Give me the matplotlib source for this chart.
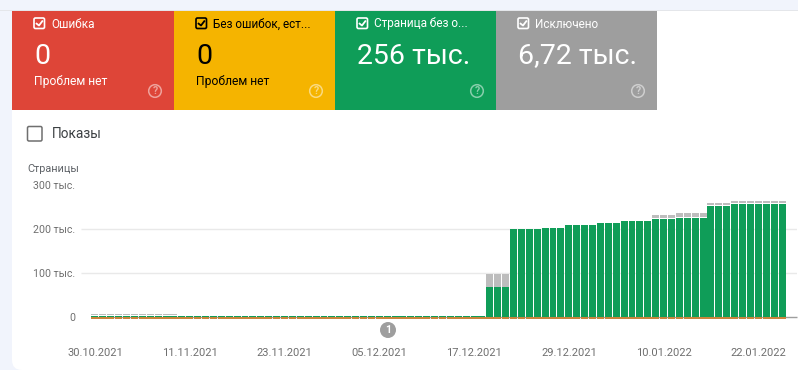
import matplotlib
matplotlib.use("Agg")
import numpy as np
import matplotlib.pyplot as plt
from matplotlib.patches import Rectangle, FancyBboxPatch, Circle

plt.rcParams['font.family'] = ['Roboto', 'DejaVu Sans']

# values in thousands of pages, one bar per day
valid = [3]*50 + [68]*3 + [201]*4 + [203]*3 + [209]*4 + [213]*3 + [217.5]*4 + [223]*3 + [226]*4 + [253]*3 + [257.5]*7
excluded = [2.5]*11 + [0]*39 + [29]*3 + [0]*14 + [0]*4 + [7.5]*3 + [10]*4 + [6]*3 + [5]*7
zero_marks = [4]*88

y_ticks = [0, 100, 200, 300]
y_labels = ["0", "100 тыс.", "200 тыс.", "300 тыс."]
x_ticks = [0, 12, 24, 36, 48, 60, 72, 84]
x_labels = ["30.10.2021", "11.11.2021", "23.11.2021", "05.12.2021",
            "17.12.2021", "29.12.2021", "10.01.2022", "22.01.2022"]

card_titles = ["Ошибка", "Без ошибок, ест...", "Страница без о...", "Исключено"]
card_values = ["0", "0", "256 тыс.", "6,72 тыс."]
card_notes = ["Проблем нет", "Проблем нет", "", ""]
card_colors = ["#DE4538", "#F5B400", "#0F9D58", "#9E9E9E"]
card_ink = ["white", "black", "white", "white"]
card_left = [12, 174, 335, 496]
card_right = [174, 335, 496, 657]

fig = plt.figure(figsize=(7.98, 3.70), dpi=100, facecolor="#F1F4FC")

# page layer in pixel coordinates
bg = fig.add_axes([0, 0, 1, 1])
bg.set_xlim(0, 798)
bg.set_ylim(370, 0)
bg.axis("off")
bg.add_patch(FancyBboxPatch((12, -30), 830, 400, boxstyle="round,pad=0,rounding_size=10",
                            fc="white", ec="none"))
bg.add_patch(Rectangle((0, 0), 798, 10, color="#F1F4FC", lw=0))
bg.add_patch(Rectangle((0, 10), 798, 1.2, color="#E4E6EA", lw=0))


def checkbox(x, y, size, edge, lw=1.2, tick=True):
    bg.add_patch(FancyBboxPatch((x, y), size, size, boxstyle="round,pad=0,rounding_size=1.5",
                                fc="none", ec=edge, lw=lw))
    if tick:
        bg.plot([x+2.6, x+5, x+size-2.2], [y+size/2+0.4, y+size-3, y+3.2], color=edge, lw=1.3)


for i in range(4):
    ink = card_ink[i]
    left = card_left[i]
    bg.add_patch(Rectangle((left, 11), card_right[i]-left, 99, color=card_colors[i], lw=0))
    checkbox(left+22, 18, 10.5, ink)
    bg.text(left+39, 24, card_titles[i], color=ink, fontsize=8.5, va="center", ha="left")
    bg.text(left+22, 56, card_values[i], color=ink, fontsize=20.5, va="center", ha="left")
    if card_notes[i]:
        bg.text(left+22, 81, card_notes[i], color=ink, fontsize=8.7, va="center", ha="left")
    hx = card_right[i] - 19
    bg.add_patch(Circle((hx, 91), 6.3, fc="none", ec="white", lw=1.1, alpha=0.5))
    bg.text(hx, 91, "?", color="white", alpha=0.5, fontsize=7.5, ha="center", va="center",
            fontweight="bold")

checkbox(27.5, 126.5, 14.5, "#6F6F6F", lw=1.1, tick=False)
bg.text(52, 134.5, "Показы", color="#3C4043", fontsize=9.8, va="center", ha="left")
bg.text(27, 169.5, "Страницы", color="#5F6368", fontsize=7.8, va="center", ha="left")

# chart
ax = fig.add_axes([81/798, 1-317/370, (797-81)/798, (317-185)/370])
ax.patch.set_alpha(0)
idx = np.arange(len(valid))
per_bar = 7.9
ax.set_xlim(-0.5-10/per_bar, 87.5+11/per_bar)
ax.set_ylim(0, 300)

ax.hlines([100, 200], *ax.get_xlim(), color="#E9E9E9", lw=1, zorder=0)
ax.hlines(0, -0.5, ax.get_xlim()[1], color="#9E9E9E", lw=1, zorder=1, clip_on=False)

ax.bar(idx, valid, width=0.88, color="#0F9D58", lw=0, zorder=2)
ax.bar(idx, excluded, bottom=np.array(valid)+1, width=0.88, color="#BDBDBD", lw=0, zorder=2)
ax.bar(idx, zero_marks, bottom=-4, width=0.95, color="#C9853C", lw=0, zorder=3, clip_on=False)

for side in ax.spines.values():
    side.set_visible(False)
ax.set_yticks(y_ticks)
ax.set_yticklabels(y_labels)
ax.set_xticks(x_ticks)
ax.set_xticklabels(x_labels)
ax.tick_params(axis="y", length=0, pad=4, labelsize=7.7, labelcolor="#6F6F6F")
ax.tick_params(axis="x", length=0, pad=22, labelsize=8, labelcolor="#6F6F6F")

# annotation marker below the axis
bg.add_patch(Circle((388, 330), 8, fc="#9E9E9E", ec="none"))
bg.text(388, 330, "1", color="white", fontsize=7.5, fontweight="bold", ha="center", va="center")

fig.savefig("out.png", dpi=100, facecolor=fig.get_facecolor())
